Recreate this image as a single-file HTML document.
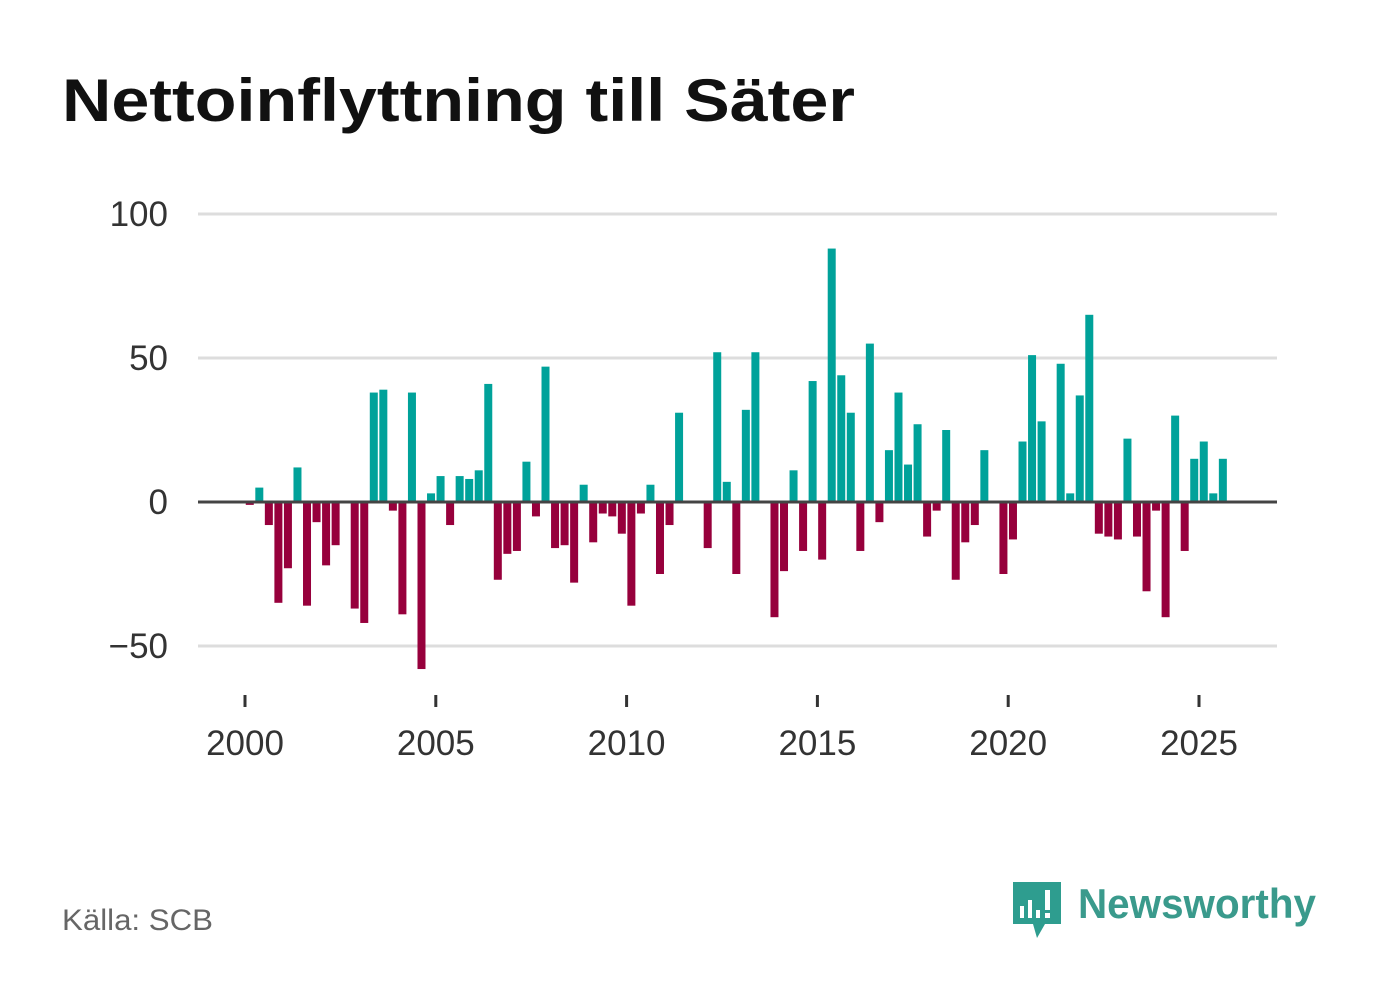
<!DOCTYPE html>
<html><head><meta charset="utf-8"><style>
body{margin:0;background:#fff;font-family:"Liberation Sans",sans-serif;}
</style></head><body>
<svg width="1382" height="999" viewBox="0 0 1382 999" xmlns="http://www.w3.org/2000/svg">
<rect width="1382" height="999" fill="#fff"/>
<text x="62" y="121" font-size="60" font-weight="bold" fill="#111" textLength="793" lengthAdjust="spacingAndGlyphs" font-family="Liberation Sans, sans-serif">Nettoinflyttning till Säter</text>
<g id="grid"></g>
<g id="bars"></g>
<g id="xaxis"></g>
<text x="62" y="930" font-size="30" fill="#666" textLength="151" lengthAdjust="spacingAndGlyphs">Källa: SCB</text>
<g>
<path d="M1013 882 h48 v42 h-16 l-8 14 l-4 -14 h-20 z" fill="#2e9d8f"/>
<rect x="1020" y="906" width="4" height="12" fill="#fff"/><rect x="1028" y="900" width="4" height="18" fill="#fff"/><rect x="1036" y="910" width="4" height="8" fill="#fff"/><rect x="1045" y="890" width="5" height="20" fill="#fff"/><rect x="1045" y="913" width="5" height="5" fill="#fff"/>
<text x="1078" y="918" font-size="42" font-weight="bold" fill="#3a9a8c" textLength="238" lengthAdjust="spacingAndGlyphs">Newsworthy</text>
</g>
</svg>
<script>
const years=[2000,2005,2010,2015,2020,2025];
const yTicks=[100,50,0,-50];
const values=[-1,5,-8,-35,-23,12,-36,-7,-22,-15,0,-37,-42,38,39,-3,-39,38,-58,3,9,-8,9,8,11,41,-27,-18,-17,14,-5,47,-16,-15,-28,6,-14,-4,-5,-11,-36,-4,6,-25,-8,31,0,0,-16,52,7,-25,32,52,0,-40,-24,11,-17,42,-20,88,44,31,-17,55,-7,18,38,13,27,-12,-3,25,-27,-14,-8,18,0,-25,-13,21,51,28,0,48,3,37,65,-11,-12,-13,22,-12,-31,-3,-40,30,-17,15,21,3,15];
const NS="http://www.w3.org/2000/svg";
const x=t=>245+(t-2000)*38.16;
const y=v=>502-v*2.88;
function mk(tag,attrs,parent){const e=document.createElementNS(NS,tag);for(const k in attrs)e.setAttribute(k,attrs[k]);parent.appendChild(e);return e;}
const grid=document.getElementById('grid'),bars=document.getElementById('bars'),xa=document.getElementById('xaxis');
yTicks.forEach(v=>{
 if(v!==0){const l=mk('line',{x1:198,x2:1277,y1:y(v),y2:y(v),stroke:'#ddd','stroke-width':3},grid);
 
 }
 const t=mk('text',{x:168,y:y(v)+12,'font-size':35,fill:'#333','text-anchor':'end'},grid);
 t.textContent=v<0?'\u2212'+(-v):String(v);
 
 
});
values.forEach((v,i)=>{
 const cx=x(2000+(i+0.5)/4);
 const r=mk('rect',{x:cx-4,width:8,y:Math.min(y(v),y(0)),height:Math.abs(y(v)-y(0)),fill:v>=0?'#00a29a':'#97003c'},bars);
 
 
});
const z=mk('line',{x1:198,x2:1277,y1:y(0),y2:y(0),stroke:'#444','stroke-width':3},bars);


years.forEach(t=>{
 const l=mk('line',{x1:x(t),x2:x(t),y1:695,y2:707,stroke:'#333','stroke-width':3},xa);
 
 
 const tx=mk('text',{x:x(t),y:755,'font-size':35,fill:'#333','text-anchor':'middle'},xa);
 tx.textContent=t;
 
 
});
</script>
</body></html>
